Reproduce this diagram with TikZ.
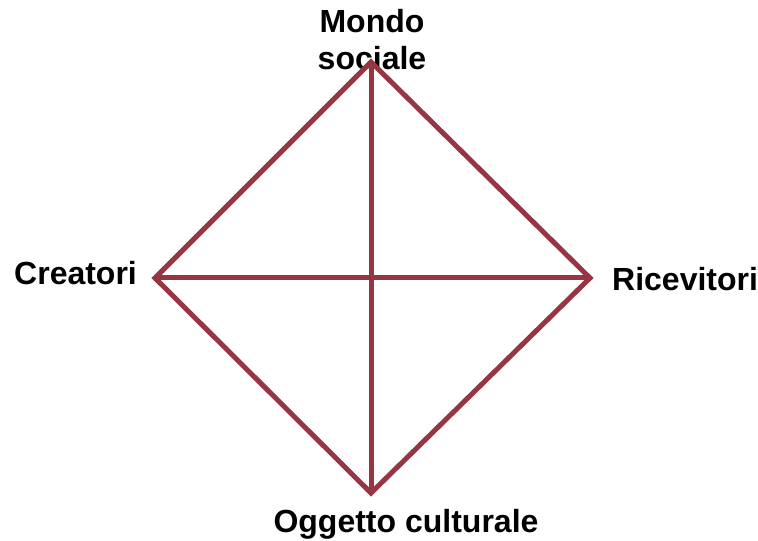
\documentclass[tikz,border=0pt]{standalone}
\usepackage{fontspec}
\setmainfont{Liberation Sans}
\definecolor{edge}{HTML}{953642}
\begin{document}
\begin{tikzpicture}[x=1pt,y=1pt,
  lbl/.style={font=\fontsize{32}{37}\selectfont\bfseries, inner sep=0pt, anchor=base, align=center},
  link/.style={draw=edge, line width=5pt, line cap=butt, line join=miter}]
\useasboundingbox (0,0) rectangle (758,541);
% labels (y = 541 - pixel y)
\node[lbl] (ms) at (372,471) {Mondo\\sociale};
\node[lbl, anchor=base west] (cr) at (14,256) {Creatori};
\node[lbl, anchor=base west] (ri) at (612,250) {Ricevitori};
\node[lbl] (oc) at (406,9) {Oggetto culturale};
% vertices
\coordinate (T) at (371,479);
\coordinate (L) at (155,263);
\coordinate (R) at (590,263);
\coordinate (B) at (371,48);
\draw[link] (T) -- (R) -- (B) -- (L) -- cycle;
\draw[link] (T) -- (B);
\draw[link] (L) -- (R);
\end{tikzpicture}
\end{document}
